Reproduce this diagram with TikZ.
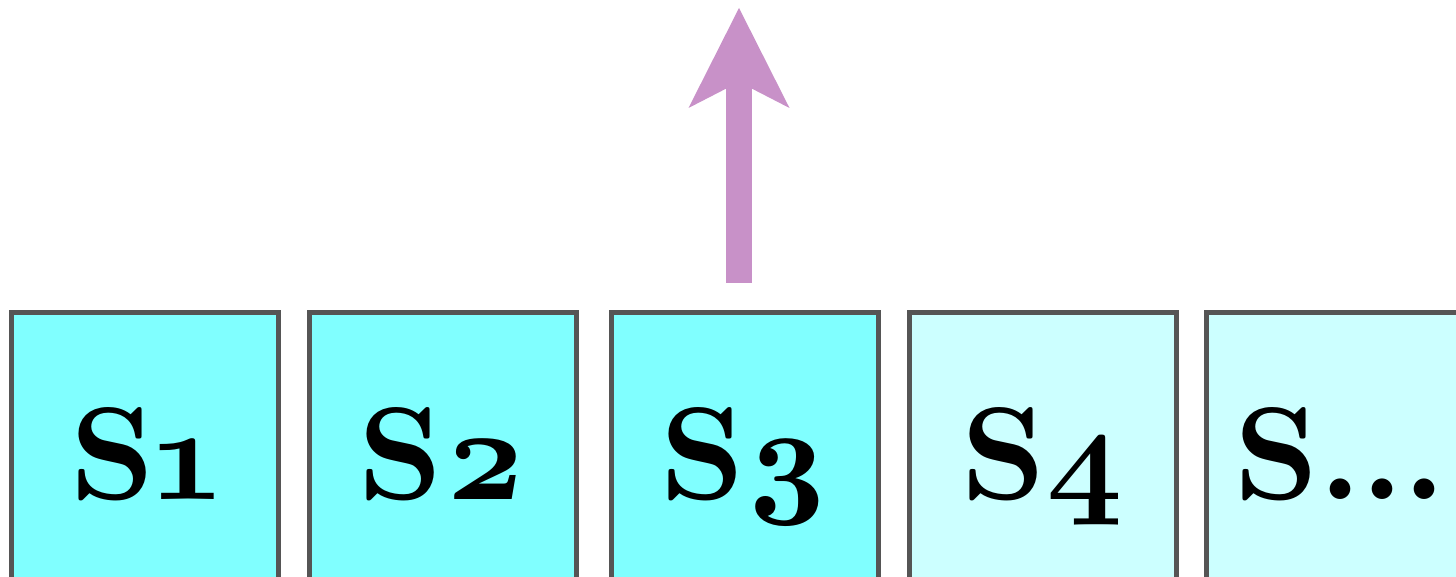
\documentclass[tikz,border=0pt]{standalone}
\usepackage{fontspec}
\newfontfamily\cellfont{lmroman10-bold.otf}[Numbers=OldStyle]
\usetikzlibrary{arrows.meta}
\definecolor{cellA}{HTML}{80FFFF}
\definecolor{cellB}{HTML}{CCFFFF}
\definecolor{cellborder}{HTML}{555555}
\definecolor{arrowcol}{RGB}{200,145,200}
\newcommand{\celltextfont}{\cellfont\fontsize{66}{66}\selectfont}
\tikzset{
  cell/.style={draw=cellborder, line width=2.5pt, minimum width=133.5pt, minimum height=133.5pt, inner sep=0pt},
  celltext/.style={anchor=base, inner sep=0pt, font=\celltextfont},
  uparrow/.style={draw=arrowcol, line width=13pt, -{Stealth[length=50pt, width=50.5pt, inset=13pt, line width=0pt, fill=arrowcol]}}
}
\begin{document}
\begin{tikzpicture}[x=0.5pt,y=0.5pt]
\useasboundingbox (0,0) rectangle (1456,577);
\node[cell, fill=cellA] (s1) at (145,130.5) {};
\node[cell, fill=cellA] (s2) at (443,130.5) {};
\node[cell, fill=cellA] (s3) at (745,130.5) {};
\node[cell, fill=cellB] (s4) at (1043,130.5) {};
\node[cell, fill=cellB] (s5) at (1340,130.5) {};
\node[celltext] (t1) at (145,77) {S1};
\node[celltext] (t2) at (443,77) {S2};
\node[celltext] (t3) at (745,77) {S3};
\node[celltext] (t4) at (1043,77) {S4};
\node[celltext] (t5) at (1340,77) {S...};
\coordinate (tail) at (739,294);
\coordinate (tip) at (739,569);
\draw[uparrow] (tail) -- (tip);
\end{tikzpicture}
\end{document}
